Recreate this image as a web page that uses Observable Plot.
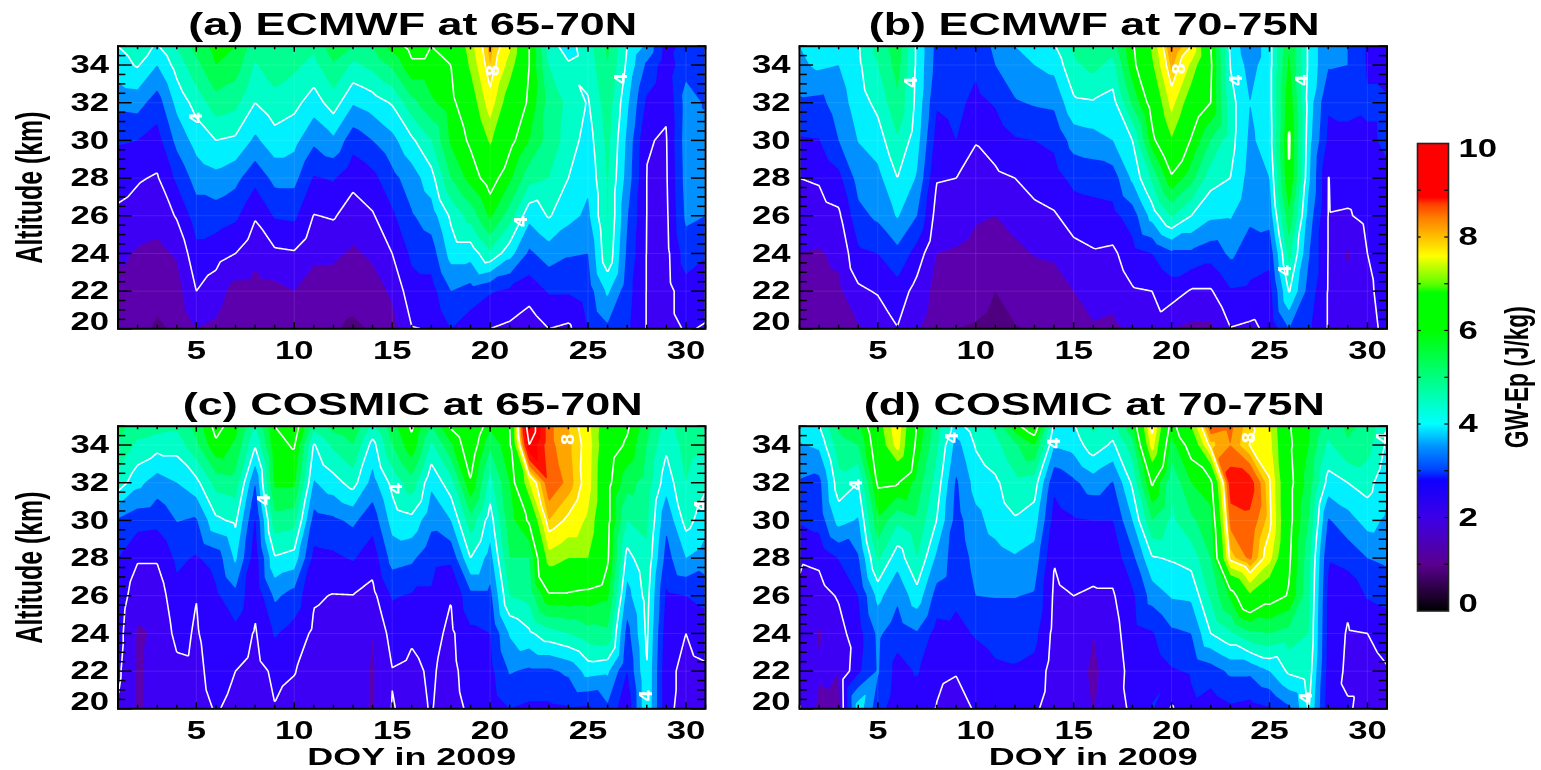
<!DOCTYPE html>
<html>
<head>
<meta charset="utf-8">
<script src="https://cdn.jsdelivr.net/npm/d3@7"></script>
<script src="https://cdn.jsdelivr.net/npm/@observablehq/plot@0.6"></script>
<style>
html,body{margin:0;padding:0;background:#fff;width:1541px;height:770px;overflow:hidden}
#chart{position:relative;width:1541px;height:770px}
#chart svg{position:absolute;background:transparent;font-family:"Liberation Sans",Arial,sans-serif;font-weight:bold;overflow:visible;filter:blur(0.5px)}
</style>
</head>
<body>
<div id="chart"></div>
<script>
// Altitudes (km) of the rows
const altitudes = [20,22,24,26,28,30,32,34,35];
const days = d3.range(1,32);

// GW-Ep (J/kg): one row per day 1..31, one value per altitude
const ecmwf6570 = [
[1.2,1.3,1.6,1.9,2.2,2.55,3.15,3.8,4.0],
[1.2,1.3,1.45,1.8,2.05,2.5,3.2,4.05,4.2],
[0.9,1.2,1.4,1.65,1.95,2.3,2.75,3.5,3.95],
[1.1,1.3,1.55,2.05,2.6,3.15,3.65,4.2,4.5],
[1.5,2.0,2.35,2.75,3.2,3.7,4.2,4.85,5.2],
[1.4,1.75,2.2,2.75,3.35,4.0,4.8,5.5,5.7],
[1.05,1.3,2.0,2.6,3.15,3.9,4.65,5.25,5.5],
[1.0,1.3,1.65,2.05,2.65,3.4,4.0,4.45,4.7],
[1.1,1.35,1.9,2.55,3.15,3.8,4.3,4.8,5.0],
[1.15,1.5,1.95,2.6,3.15,3.65,4.15,4.6,4.85],
[1.1,1.3,1.6,1.98,2.45,3.1,3.75,4.35,4.6],
[1.05,1.25,1.6,2.05,2.55,3.4,4.25,4.95,5.3],
[0.9,1.2,1.42,1.75,2.15,2.7,3.55,4.4,5.0],
[1.05,1.25,1.6,1.95,2.35,3.0,3.75,4.65,5.0],
[1.3,1.6,2.0,2.4,2.85,3.35,4.05,5.1,5.7],
[1.98,2.3,2.6,2.95,3.25,3.9,4.85,5.9,6.2],
[2.02,2.3,2.75,3.25,3.8,4.5,5.4,5.9,6.0],
[2.5,3.0,3.7,4.1,5.0,5.6,5.8,6.0,6.2],
[2.2,2.8,3.7,4.7,5.7,6.1,6.6,7.1,7.3],
[2.0,2.55,4.4,5.6,6.3,7.1,7.8,8.3,8.45],
[1.9,2.4,3.7,4.75,5.6,6.2,6.6,7.3,7.6],
[1.7,2.2,2.9,3.65,4.7,5.5,5.9,6.0,6.0],
[2.0,2.55,3.25,4.05,4.5,4.8,4.8,4.5,4.2],
[1.9,2.55,3.05,3.65,4.0,4.3,4.4,4.05,3.8],
[2.5,2.75,3.0,3.4,3.6,3.75,3.95,4.2,4.3],
[2.9,3.6,4.4,4.55,4.55,4.65,4.8,5.0,5.1],
[2.6,2.7,2.9,3.05,3.3,3.4,3.6,3.9,4.0],
[1.98,1.98,1.98,1.99,1.99,2.02,2.4,2.9,3.4],
[1.8,1.8,1.85,1.9,1.95,1.97,2.05,2.2,2.3],
[2.05,2.3,2.75,3.1,3.2,3.25,3.2,2.85,2.7],
[1.95,2.25,2.55,3.0,3.15,3.2,2.95,2.7,2.6]
];
const ecmwf7075 = [
[1.2,1.35,1.5,1.75,2.0,2.45,2.9,3.4,3.5],
[1.2,1.35,1.45,1.8,2.05,2.48,2.85,3.6,3.7],
[1.25,1.4,1.6,1.9,2.35,3.0,3.25,3.5,3.65],
[1.45,1.9,2.4,2.85,3.2,3.52,3.75,3.9,3.95],
[1.6,2.05,2.5,3.1,3.35,3.75,4.15,4.5,4.7],
[1.98,2.3,2.85,3.55,4.0,4.45,4.9,5.2,5.3],
[1.55,1.8,2.3,3.0,3.45,3.7,3.85,3.9,3.9],
[1.25,1.35,1.5,1.8,2.03,2.3,2.55,2.8,2.85],
[1.0,1.3,1.45,1.75,2.0,2.5,2.65,2.9,3.0],
[0.95,1.2,1.35,1.55,1.85,2.02,2.35,2.6,2.7],
[0.85,1.0,1.3,1.5,1.9,2.2,2.55,3.0,3.1],
[0.97,1.2,1.4,1.65,2.0,2.45,2.95,3.3,3.5],
[1.05,1.25,1.52,1.85,2.2,2.5,3.05,3.5,3.7],
[1.1,1.35,1.55,1.95,2.3,2.6,3.1,3.65,3.95],
[1.3,1.5,1.85,2.2,2.65,3.2,3.9,4.4,4.6],
[1.45,1.7,1.95,2.3,2.7,3.3,3.95,4.65,4.95],
[1.4,1.65,1.9,2.35,2.75,3.5,3.8,4.35,4.7],
[1.6,1.95,2.3,2.75,3.6,4.0,5.1,5.8,5.9],
[1.8,2.0,2.5,3.7,4.6,5.8,6.3,6.9,7.1],
[1.5,2.25,2.9,4.55,5.9,6.95,7.7,8.4,8.7],
[1.4,1.95,2.9,4.0,5.2,5.95,6.6,7.4,8.0],
[1.4,1.95,2.7,3.6,4.2,5.0,6.0,6.1,6.0],
[1.98,2.45,3.1,3.55,4.0,4.2,4.2,3.98,3.9],
[1.9,2.4,2.75,3.1,3.3,3.4,3.5,3.3,3.1],
[2.1,2.3,2.65,3.2,3.5,3.75,3.8,3.8,3.8],
[3.0,4.05,4.7,5.4,6.02,6.1,5.9,5.6,5.5],
[2.6,2.8,3.05,3.3,3.6,3.7,3.8,3.9,3.9],
[1.97,1.97,1.98,1.98,1.99,2.4,2.55,3.05,3.05],
[1.65,1.6,1.45,1.95,2.2,2.4,2.6,3.0,3.0],
[1.75,1.85,2.0,2.15,2.25,2.45,2.55,2.45,2.45],
[2.2,2.3,2.35,2.4,2.45,2.55,2.55,2.35,2.3]
];
const cosmic6570 = [
[1.95,2.1,2.2,2.3,2.5,2.95,4.3,4.95,5.2],
[1.45,1.45,1.45,1.7,2.05,2.7,3.65,4.4,4.7],
[1.65,1.6,1.55,1.7,2.05,2.65,3.25,4.2,4.7],
[1.7,1.85,2.15,2.35,2.6,3.02,3.5,4.2,4.6],
[1.85,1.9,1.95,2.01,2.45,2.95,3.85,4.9,5.2],
[2.03,2.15,2.3,2.4,2.7,3.9,4.7,5.9,6.2],
[1.9,2.0,2.35,2.85,3.6,4.1,4.8,5.4,5.7],
[1.7,1.8,1.95,2.1,2.2,2.45,3.0,4.05,4.5],
[1.98,2.1,2.55,3.1,3.95,4.8,5.6,5.85,6.0],
[1.85,2.02,2.3,2.8,3.8,4.7,5.6,6.05,6.4],
[1.7,1.8,1.9,2.05,2.35,2.8,3.45,3.95,4.7],
[1.7,1.75,1.85,1.98,2.4,2.9,3.8,4.6,5.2],
[1.65,1.75,1.85,1.99,2.55,3.1,4.2,5.0,5.4],
[1.45,1.45,1.5,1.85,2.2,2.7,3.3,3.8,4.4],
[2.02,1.98,2.2,2.55,3.2,3.7,4.15,5.0,5.3],
[1.9,1.92,2.05,2.45,3.1,3.85,4.8,5.85,6.1],
[2.02,2.05,2.15,2.45,2.65,3.15,3.6,4.4,5.0],
[1.8,1.85,1.9,2.02,2.6,3.5,4.3,5.4,6.1],
[2.1,2.25,2.4,2.85,4.0,4.8,5.95,6.5,6.8],
[2.2,2.35,2.5,2.85,3.3,3.75,4.3,5.1,5.6],
[2.5,3.05,3.55,4.5,5.0,5.3,5.5,5.85,5.95],
[2.4,2.9,3.9,4.7,5.0,6.1,7.5,10.0,10.6],
[2.4,2.9,4.3,5.9,7.3,8.3,8.9,8.7,8.7],
[2.45,3.1,4.5,5.9,7.0,7.9,8.5,8.4,8.3],
[2.4,3.7,4.8,5.8,7.0,7.4,7.75,7.8,7.7],
[2.9,3.6,4.9,5.6,6.1,6.2,6.2,6.4,6.5],
[2.1,2.5,2.8,3.3,3.8,4.5,5.2,5.9,6.1],
[3.98,4.0,4.1,4.2,4.4,4.6,4.8,5.0,5.2],
[2.1,2.1,2.2,2.4,2.8,3.1,3.7,4.1,4.3],
[1.85,1.9,2.0,2.5,3.5,4.2,4.5,4.7,4.8],
[1.9,1.95,2.15,2.7,3.25,3.7,4.1,4.6,4.8]
];
const cosmic7075 = [
[2.02,1.9,1.85,1.95,2.04,2.55,2.95,3.45,3.7],
[1.4,1.55,1.45,1.8,2.1,2.7,2.85,3.6,3.98],
[1.45,1.5,1.8,2.05,2.52,3.7,4.3,4.8,5.1],
[3.8,2.4,2.3,2.5,2.95,3.45,4.0,5.0,5.4],
[2.7,3.05,3.1,3.65,4.6,5.4,6.1,6.5,6.7],
[2.2,2.3,2.7,3.1,3.7,4.6,6.05,7.75,7.9],
[2.15,2.55,2.95,3.8,4.5,4.9,5.3,5.8,5.95],
[1.98,2.1,2.3,2.8,3.4,4.0,4.3,4.6,4.7],
[1.8,2.03,2.35,2.6,2.7,2.8,2.92,3.3,3.8],
[2.05,2.2,2.55,3.0,3.15,3.35,3.7,4.05,4.3],
[2.2,2.4,2.7,3.02,3.3,3.7,3.9,4.35,4.6],
[2.2,2.45,2.7,3.02,3.45,3.95,4.35,4.9,5.8],
[2.1,2.35,2.65,2.95,3.3,3.75,4.25,5.5,6.5],
[1.7,1.75,1.85,1.92,2.02,2.3,2.6,3.55,3.9],
[1.7,1.7,1.85,2.0,2.2,2.45,2.9,3.7,3.95],
[1.48,1.42,1.5,1.95,2.15,2.5,3.25,4.3,4.6],
[1.75,1.7,1.8,1.95,2.2,2.5,2.97,3.9,4.3],
[2.1,2.2,2.3,2.4,2.85,3.5,4.1,4.8,5.4],
[2.55,2.2,2.45,3.2,3.95,5.0,6.1,7.8,8.2],
[1.95,2.45,2.9,3.55,4.05,4.4,4.6,5.3,5.7],
[2.4,2.55,3.0,3.6,4.2,4.9,5.5,6.3,7.0],
[2.2,2.75,4.0,4.6,5.0,5.3,5.8,8.2,8.9],
[2.4,3.1,4.4,5.6,8.15,8.75,9.3,8.6,8.7],
[2.3,3.1,4.9,6.9,8.7,8.9,9.25,7.98,8.1],
[2.45,3.5,5.0,6.3,7.7,8.15,8.05,7.7,7.6],
[2.9,4.1,4.8,5.95,6.1,6.2,6.2,6.1,6.05],
[4.05,4.3,4.5,4.6,4.7,5.0,5.3,5.5,5.6],
[2.2,2.3,2.35,2.4,2.55,2.95,3.8,4.4,4.7],
[2.05,1.9,1.95,2.1,2.7,3.3,4.0,4.95,5.1],
[1.85,1.9,2.0,2.55,3.0,3.7,4.2,4.7,4.9],
[1.95,1.98,2.1,2.7,3.1,3.4,3.6,3.9,4.0]
];

// Band levels, the colour of each band, and the white labelled contours
const levels = [0,0.5,1,1.5,2,2.5,3,3.5,4,4.5,5,5.5,6,6.5,7,7.5,8,8.3,8.6,9,9.5];
const bandColors = ["#1c0030","#4e0080","#5c00ad","#3e00f5","#2a00ff","#0030ff","#0090ff","#00f0ff","#00ffc8","#00ff90","#00ff50","#00ff00","#00ff00","#00ff00","#a0ff00","#ffff00","#ffd800","#ffa500","#ff6400","#ff1000","#ff0000"];
const lineLevels = [2,4,6,8,10];

// Colour bar stops
const barStops = [0,1,2,2.8,3,3.5,4,5,6,6.8,7,7.6,8,8.4,8.7,8.85,10];
const barColors = ["#000000","#5a0090","#3c00e6","#1000ff","#0040ff","#0090ff","#00ffff","#00ff80","#00ff00","#00ff00","#60ff00","#ffff00","#ffc000","#ff8000","#ff4000","#ff0000","#ff0000"];

const dayTicks = [5,10,15,20,25,30];
const altTicks = [22,24,26,28,30,32,34];

const labelsA = [[5,31.2,"4"],[20.2,33.7,"8"],[21.6,25.7,"4"],[26.7,33.3,"4"]];
const labelsB = [[6.7,33.1,"4"],[20.4,33.8,"8"],[23.3,33.2,"4"],[26.7,33.2,"4"],[25.8,23.1,"4"]];
const labelsC = [[8.5,31.1,"4"],[24,34.3,"8"],[15.2,31.7,"4"],[30.8,30.8,"4"],[28,20.7,"4"]];
const labelsD = [[3.9,31.9,"4"],[8.8,34.4,"4"],[14,34.1,"4"],[24,34.4,"8"],[26.9,20.6,"4"],[30.8,34.4,"4"]];

const panels = [
 {title:"(a) ECMWF at 65-70N",values:ecmwf6570,labels:labelsA,left:0,top:0,w:730,ml:117.5,mr:25,mt:45.7,mb:56.7,yLabel:true,xLabel:false},
 {title:"(b) ECMWF at 70-75N",values:ecmwf7075,labels:labelsB,left:730,top:0,w:670,ml:69,mr:13.5,mt:45.7,mb:56.7,yLabel:false,xLabel:false},
 {title:"(c) COSMIC at 65-70N",values:cosmic6570,labels:labelsC,left:0,top:385,w:730,ml:117.5,mr:25,mt:40.7,mb:61.7,yLabel:true,xLabel:true},
 {title:"(d) COSMIC at 70-75N",values:cosmic7075,labels:labelsD,left:730,top:385,w:670,ml:69,mr:13.5,mt:40.7,mb:61.7,yLabel:false,xLabel:true}
];
const textLengths = {
 "(a) ECMWF at 65-70N":449,"(b) ECMWF at 70-75N":451,"(c) COSMIC at 65-70N":460,"(d) COSMIC at 70-75N":461,
 "Altitude (km)":152,"DOY in 2009":209,"GW-Ep (J/kg)":142
};

function panel(p){
 const data = p.values.flatMap((col,i)=>col.map((v,j)=>({day:days[i],alt:altitudes[j],v})));
 const base = {x:"day",y:"alt",value:"v",interpolate:"barycentric",pixelSize:1,blur:0,clip:true};
 const allDays = days, halfKm = d3.range(20,35.01,0.5);
 const marks = [
  Plot.contour(data,{...base,thresholds:levels,fill:"value",stroke:"none"}),
  Plot.ruleX(dayTicks,{stroke:"#fff",strokeOpacity:0.1}),
  Plot.ruleY(altTicks,{stroke:"#fff",strokeOpacity:0.1}),
  Plot.contour(data,{...base,thresholds:lineLevels,fill:"none",stroke:"#fff",strokeWidth:1.6}),
  Plot.text(p.labels,{x:"0",y:"1",text:"2",fill:"#fff",rotate:-90,fontSize:17,fontWeight:"bold",fontFamily:"DejaVu Sans"}),
  // inward ticks, every day and every half km
  Plot.ruleX(allDays,{y1:20,y2:d=>20+(d%5===0?0.32:0.19),stroke:"#000",strokeWidth:1.5}),
  Plot.ruleX(allDays,{y1:35,y2:d=>35-(d%5===0?0.32:0.19),stroke:"#000",strokeWidth:1.5}),
  Plot.ruleY(halfKm,{x1:1,x2:d=>1+(d%2===0?0.72:0.4),stroke:"#000",strokeWidth:1.5}),
  Plot.ruleY(halfKm,{x1:31,x2:d=>31-(d%2===0?0.72:0.4),stroke:"#000",strokeWidth:1.5}),
  Plot.frame({stroke:"#000",strokeWidth:2}),
  Plot.axisX({ticks:dayTicks,tickSize:0,tickPadding:12,fontSize:25.5,label:null}),
  Plot.axisY({ticks:altTicks,tickSize:0,tickPadding:9,fontSize:25.5,label:null}),
  Plot.axisY({ticks:[20],tickSize:0,tickPadding:9,fontSize:25.5,dy:-6.6,label:null}),
  Plot.text([p.title],{frameAnchor:"top",lineAnchor:"bottom",dy:-11,dx:1,fontSize:32,fontWeight:"bold",fill:"#000"})
 ];
 if(p.yLabel) marks.push(Plot.text(["Altitude (km)"],{frameAnchor:"left",textAnchor:"middle",rotate:-90,dx:-87.5,fontSize:36,fontWeight:"bold",fill:"#000"}));
 if(p.xLabel) marks.push(Plot.text(["DOY in 2009"],{frameAnchor:"bottom",lineAnchor:"bottom",dy:56.5,fontSize:24,fontWeight:"bold",fill:"#000"}));
 const svg = Plot.plot({
  width:p.w,height:385,marginLeft:p.ml,marginRight:p.mr,marginTop:p.mt,marginBottom:p.mb,
  x:{domain:[1,31]},y:{domain:[20,35]},
  color:{type:"ordinal",domain:levels,range:bandColors},
  style:{background:"transparent",overflow:"visible"},
  marks
 });
 svg.style.left=p.left+"px"; svg.style.top=p.top+"px";
 return svg;
}

function colorbar(){
 const svg = Plot.plot({
  width:151,height:510,marginLeft:27,marginRight:93,marginTop:23,marginBottom:19.5,
  x:{domain:[0,1],axis:null},y:{domain:[0,10],axis:null},
  color:{type:"linear",domain:barStops,range:barColors,interpolate:"rgb"},
  style:{background:"transparent",overflow:"visible"},
  marks:[
   Plot.raster({x1:0,x2:1,y1:0,y2:10,width:1,height:468,fill:(x,y)=>y}),
   Plot.ruleY([1,2,3,4,5,6,7,8,9],{x1:0,x2:0.12,stroke:"#000",strokeWidth:1.2}),
   Plot.ruleY([1,2,3,4,5,6,7,8,9],{x1:1,x2:0.88,stroke:"#000",strokeWidth:1.2}),
   Plot.frame({stroke:"#222",strokeWidth:1.6}),
   Plot.axisY({anchor:"right",ticks:[2,4,6,8],tickSize:0,tickPadding:10,fontSize:25.5,label:null,textAnchor:"start"}),
   Plot.axisY({anchor:"right",ticks:[10],tickSize:0,tickPadding:10,fontSize:25.5,dy:5,label:null,textAnchor:"start"}),
   Plot.axisY({anchor:"right",ticks:[0],tickSize:0,tickPadding:10,fontSize:25.5,dy:-7,label:null,textAnchor:"start"}),
   Plot.text(["GW-Ep (J/kg)"],{frameAnchor:"middle",rotate:-90,dx:84,fontSize:33,fontWeight:"bold",fill:"#000"})
  ]
 });
 svg.style.left="1390px"; svg.style.top="120px";
 return svg;
}

const host = document.getElementById("chart");
panels.forEach(p=>host.appendChild(panel(p)));
host.appendChild(colorbar());

// The reference is stretched sideways: keep the text real, widen it to the measured lengths
host.querySelectorAll("text").forEach(t=>{
 const s = t.textContent.trim();
 const tick = t.closest('[aria-label$="tick label"]');
 let len = textLengths[s];
 if(!len && tick) len = t.getComputedTextLength()*1.36;
 if(len){ t.setAttribute("textLength",len); t.setAttribute("lengthAdjust","spacingAndGlyphs"); }
});
</script>
</body>
</html>
